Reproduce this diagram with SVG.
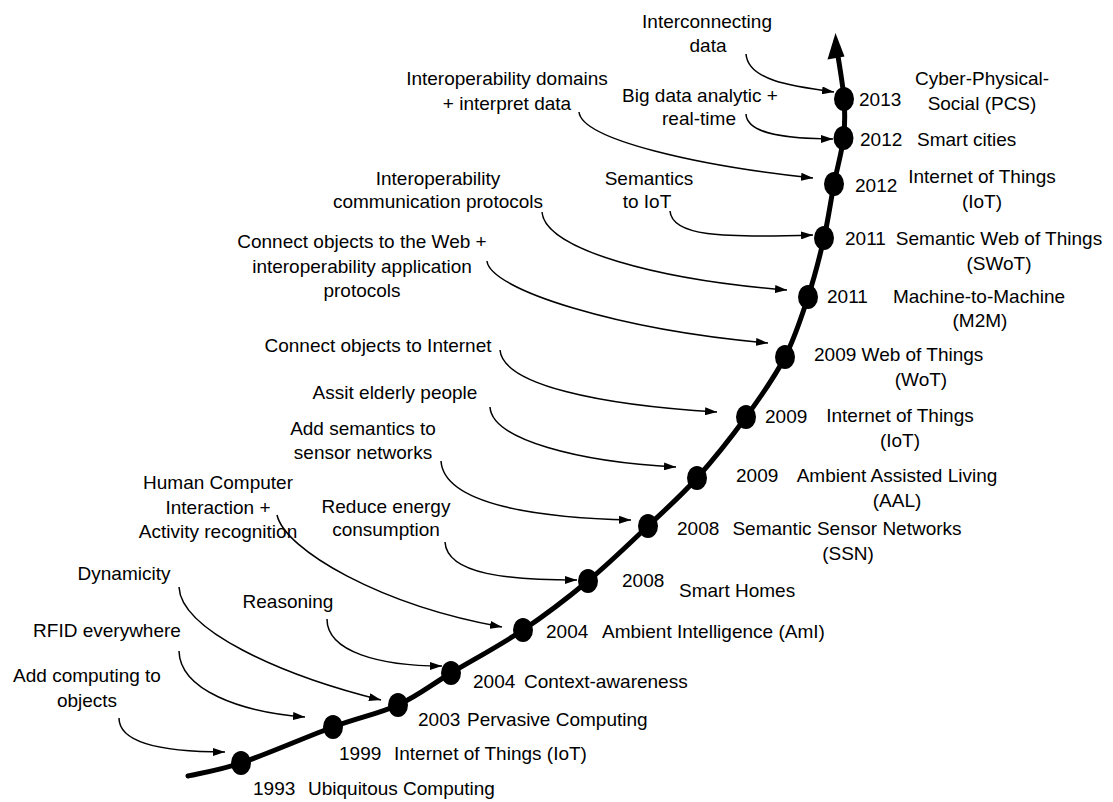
<svg xmlns="http://www.w3.org/2000/svg" width="1113" height="802" viewBox="0 0 1113 802">
<defs>
<style>
text{font-family:"Liberation Sans",Arial,sans-serif;font-size:19px;fill:#000}
.m{text-anchor:middle}
.dot{fill:#000}
.conn{fill:none;stroke:#000;stroke-width:1.5;marker-end:url(#ah)}
.axis{fill:none;stroke:#000;stroke-width:5;stroke-linecap:round}
</style>
<marker id="ah" viewBox="0 0 12 8" refX="12" refY="4" markerWidth="12" markerHeight="8" markerUnits="userSpaceOnUse" orient="auto">
<path d="M0,0 L12,4 L0,8 z" fill="#000"/>
</marker>
</defs>
<rect width="1113" height="802" fill="#fff"/>

<g id="timeline">
<path class="axis" d="M188,776 C196.8,773.8 216.8,771.2 241,763 C265.2,754.8 306.8,736.7 333,727 C359.2,717.3 378.3,714 398,705 C417.7,696 430.2,685.5 451,673 C471.8,660.5 500.2,645.3 523,630 C545.8,614.7 567.2,598.3 588,581 C608.8,563.7 629.8,543.2 648,526 C666.2,508.8 680.7,496.2 697,478 C713.3,459.8 731.3,437.2 746,417 C760.7,396.8 774.7,377 785,357 C795.3,337 801.5,316.8 808,297 C814.5,277.2 819.7,256.8 824,238 C828.3,219.2 830.75,200.7 834,184 C837.25,167.3 841.8,152.2 843.5,138 C845.2,123.8 845.1,113.7 844,99 C842.9,84.3 838.2,58.2 837,50"/>
<polygon points="835.5,33 827.5,59.5 844.5,56.5" fill="#000"/>
</g>

<g id="connectors">
<path class="conn" d="M746,54 C748,80 790,86 834,92"/>
<path class="conn" d="M746,114 C747,135 790,139 833,139"/>
<path class="conn" d="M579,112 C582,140 700,166 813,178"/>
<path class="conn" d="M670,211 C672,236 720,238 813,235"/>
<path class="conn" d="M542,212 C545,250 660,280 787,290"/>
<path class="conn" d="M487,261 C490,290 620,330 768,343"/>
<path class="conn" d="M500,350 C503,385 600,405 717,412"/>
<path class="conn" d="M490,407 C492,440 580,462 676,467"/>
<path class="conn" d="M441,461 C444,505 540,518 631,520"/>
<path class="conn" d="M445,542 C447,575 510,580 577,580"/>
<path class="conn" d="M277,515 C285,550 380,605 502,627"/>
<path class="conn" d="M179,587 C181,630 280,675 381,700"/>
<path class="conn" d="M327,619 C327,652 380,666 442,666"/>
<path class="conn" d="M179,651 C180,690 240,712 305,717"/>
<path class="conn" d="M119,718 C119,745 170,752 225,752"/>
</g>

<g id="e2013"><ellipse class="dot" cx="844" cy="99" rx="10" ry="12"/><text x="859" y="106">2013</text><text class="m" x="982" y="85">Cyber-Physical-</text><text class="m" x="982" y="110">Social (PCS)</text></g>
<g id="e2012sc"><ellipse class="dot" cx="843.5" cy="138" rx="10" ry="12"/><text x="860" y="146">2012</text><text x="917" y="146">Smart cities</text></g>
<g id="e2012iot"><ellipse class="dot" cx="834" cy="184" rx="10" ry="12"/><text x="855" y="192">2012</text><text class="m" x="982" y="183">Internet of Things</text><text class="m" x="982" y="208">(IoT)</text></g>
<g id="e2011swot"><ellipse class="dot" cx="824" cy="238" rx="10" ry="12"/><text x="845" y="245">2011</text><text class="m" x="999" y="245">Semantic Web of Things</text><text class="m" x="999" y="270">(SWoT)</text></g>
<g id="e2011m2m"><ellipse class="dot" cx="808" cy="297" rx="10" ry="12"/><text x="827" y="303">2011</text><text class="m" x="979" y="303">Machine-to-Machine</text><text class="m" x="980" y="327">(M2M)</text></g>
<g id="e2009wot"><ellipse class="dot" cx="785" cy="357" rx="10" ry="12"/><text x="814" y="361">2009 Web of Things</text><text class="m" x="921" y="386">(WoT)</text></g>
<g id="e2009iot"><ellipse class="dot" cx="746" cy="417" rx="10" ry="12"/><text x="765" y="423">2009</text><text class="m" x="900" y="422">Internet of Things</text><text class="m" x="900" y="447">(IoT)</text></g>
<g id="e2009aal"><ellipse class="dot" cx="697" cy="478" rx="10" ry="12"/><text x="736" y="482">2009</text><text class="m" x="897" y="482">Ambient Assisted Living</text><text class="m" x="897" y="507">(AAL)</text></g>
<g id="e2008ssn"><ellipse class="dot" cx="648" cy="526" rx="10" ry="12"/><text x="677" y="535">2008</text><text class="m" x="847" y="535">Semantic Sensor Networks</text><text class="m" x="848" y="560">(SSN)</text></g>
<g id="e2008sh"><ellipse class="dot" cx="588" cy="581" rx="10" ry="12"/><text x="622" y="587">2008</text><text x="679" y="597">Smart Homes</text></g>
<g id="e2004ami"><ellipse class="dot" cx="523" cy="630" rx="10" ry="12"/><text x="546" y="638">2004</text><text x="602" y="638">Ambient Intelligence (AmI)</text></g>
<g id="e2004ca"><ellipse class="dot" cx="451" cy="673" rx="10" ry="12"/><text x="473" y="688">2004</text><text x="524" y="688">Context-awareness</text></g>
<g id="e2003"><ellipse class="dot" cx="398" cy="705" rx="10" ry="12"/><text x="418" y="726">2003</text><text x="467" y="726">Pervasive Computing</text></g>
<g id="e1999"><ellipse class="dot" cx="333" cy="727" rx="10" ry="12"/><text x="339" y="760">1999</text><text x="394" y="760">Internet of Things (IoT)</text></g>
<g id="e1993"><ellipse class="dot" cx="241" cy="763" rx="10" ry="12"/><text x="253" y="795">1993</text><text x="308" y="795">Ubiquitous Computing</text></g>

<g id="l-interconnecting"><text class="m" x="707" y="28">Interconnecting</text><text class="m" x="708" y="52">data</text></g>
<g id="l-domains"><text class="m" x="507" y="85">Interoperability domains</text><text class="m" x="507" y="110">+ interpret data</text></g>
<g id="l-bigdata"><text class="m" x="700" y="102">Big data analytic +</text><text class="m" x="699" y="125">real-time</text></g>
<g id="l-semantics"><text class="m" x="649" y="185">Semantics</text><text class="m" x="647" y="208">to IoT</text></g>
<g id="l-comm"><text class="m" x="438" y="185">Interoperability</text><text class="m" x="438" y="208">communication protocols</text></g>
<g id="l-web"><text class="m" x="362" y="248">Connect objects to the Web +</text><text class="m" x="362" y="273">interoperability application</text><text class="m" x="362" y="297">protocols</text></g>
<g id="l-internet"><text class="m" x="378" y="352">Connect objects to Internet</text></g>
<g id="l-elderly"><text class="m" x="395" y="399">Assit elderly people</text></g>
<g id="l-sensor"><text class="m" x="363" y="435">Add semantics to</text><text class="m" x="363" y="459">sensor networks</text></g>
<g id="l-hci"><text class="m" x="218" y="489">Human Computer</text><text class="m" x="218" y="514">Interaction +</text><text class="m" x="218" y="538">Activity recognition</text></g>
<g id="l-energy"><text class="m" x="386" y="513">Reduce energy</text><text class="m" x="386" y="536">consumption</text></g>
<g id="l-dynamicity"><text class="m" x="124" y="580">Dynamicity</text></g>
<g id="l-reasoning"><text class="m" x="288" y="608">Reasoning</text></g>
<g id="l-rfid"><text class="m" x="107" y="637">RFID everywhere</text></g>
<g id="l-computing"><text class="m" x="87" y="682">Add computing to</text><text class="m" x="87" y="707">objects</text></g>
</svg>
